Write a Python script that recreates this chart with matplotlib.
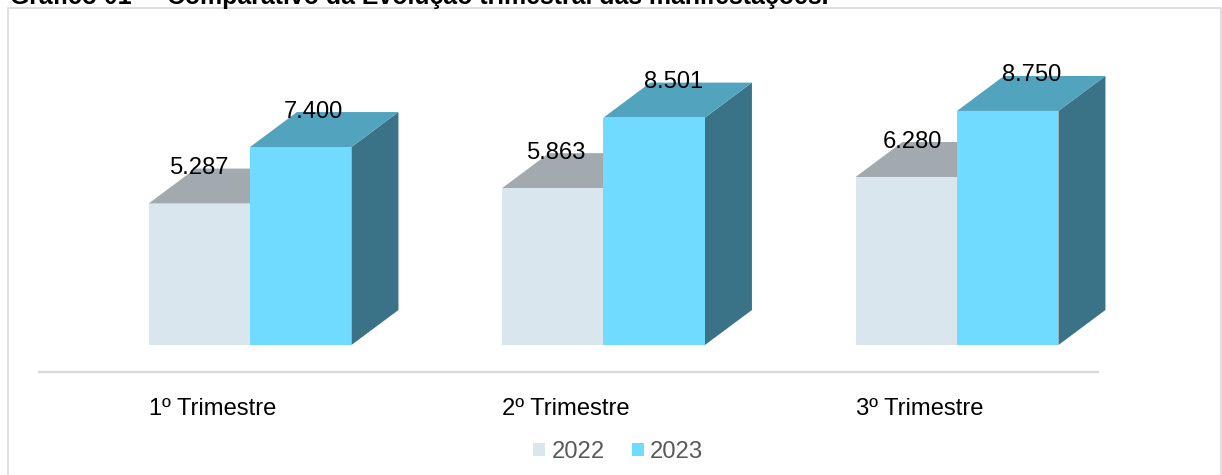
import matplotlib
matplotlib.use("Agg")
import matplotlib.pyplot as plt
from matplotlib.patches import Polygon, Rectangle, Patch
import numpy as np

# ---- data ----
categories = ["1º Trimestre", "2º Trimestre", "3º Trimestre"]
series_names = ["2022", "2023"]
values_2022 = [5287, 5863, 6280]
values_2023 = [7400, 8501, 8750]
title_number = "Gráfico 01 –"
title_text = "Comparativo da Evolução trimestral das manifestações."

# ---- styling ----
W, H, DPI = 1222, 475, 100
FONT = "Liberation Sans"
FS = 17.1  # pt
colors_2022 = {"front": "#DAE6ED", "top": "#A2AAB0", "side": "#8A949A"}
colors_2023 = {"front": "#70DBFF", "top": "#52A3BE", "side": "#3A7387"}
DEPTH_PX = (47, 35)          # oblique depth of the pseudo-3D boxes (pixels)
BAR_W = 0.287                # bar width in category units
label_shift_2022 = [0.5, 3.5, 6.5]   # px, horizontal nudge of value labels
label_shift_2023 = [13, 19, 24]

plt.rcParams["font.family"] = [FONT, "DejaVu Sans"]

fig = plt.figure(figsize=(W / DPI, H / DPI), dpi=DPI)

def fx(px):
    return px / W

def fy(py):
    return 1 - py / H

# chart frame
fig.patches.append(Rectangle((fx(8), -0.1), fx(1221) - fx(8), fy(7.5) + 0.1,
                             transform=fig.transFigure, fill=False,
                             edgecolor="#D9D9D9", linewidth=1.2, zorder=0))

# caption above the frame (runs past the top edge of the image)
t1 = fig.text(fx(10), fy(4), title_number, fontsize=FS, fontweight="bold",
              color="#000000", va="baseline", ha="left")
t2 = fig.text(fx(167), fy(4), title_text, fontsize=FS, fontweight="bold",
              color="#000000", va="baseline", ha="left")
renderer = fig.canvas.get_renderer()
w2 = t2.get_window_extent(renderer).width
t2.set_fontsize(FS * 661 / w2)
t1.set_fontsize(FS * 661 / w2)

# plot area
ax_left, ax_right, ax_top, ax_bottom = 39, 1098, 77.5, 371.75
ax = fig.add_axes([fx(ax_left), fy(ax_bottom), fx(ax_right) - fx(ax_left),
                   fy(ax_top) - fy(ax_bottom)])
ax.set_xlim(-0.5969, 2.3989)
ax.set_ylim(-1000, 10000)
for s in ["top", "left", "right"]:
    ax.spines[s].set_visible(False)
ax.spines["bottom"].set_color("#D9D9D9")
ax.spines["bottom"].set_linewidth(1.6)
ax.set_xticks([])
ax.set_yticks([])
ax.patch.set_alpha(0)

# depth offset converted into data units
o = ax.transData.transform((0, 0))
ddx, ddy = ax.transData.inverted().transform(o + np.array(DEPTH_PX))

def box(x0, x1, v, c):
    side = [(x1, 0), (x1 + ddx, ddy), (x1 + ddx, v + ddy), (x1, v)]
    top = [(x0, v), (x1, v), (x1 + ddx, v + ddy), (x0 + ddx, v + ddy)]
    front = [(x0, 0), (x1, 0), (x1, v), (x0, v)]
    for verts, key in [(side, "side"), (top, "top"), (front, "front")]:
        ax.add_patch(Polygon(verts, closed=True, facecolor=c[key],
                             edgecolor="none", clip_on=False))

def fmt(v):
    return f"{v:,}".replace(",", ".")

px2pt = 72 / DPI
for i, cat in enumerate(categories):
    v22, v23 = values_2022[i], values_2023[i]
    box(i - BAR_W, i, v22, colors_2022)
    box(i, i + BAR_W, v23, colors_2023)
    ax.annotate(fmt(v22), xy=(i - BAR_W / 2, v22), xycoords="data",
                xytext=(label_shift_2022[i] * px2pt, 29.5 * px2pt),
                textcoords="offset points", ha="center", va="baseline",
                fontsize=FS, color="#000000", annotation_clip=False)
    ax.annotate(fmt(v23), xy=(i + BAR_W / 2, v23), xycoords="data",
                xytext=(label_shift_2023[i] * px2pt, 29.5 * px2pt),
                textcoords="offset points", ha="center", va="baseline",
                fontsize=FS, color="#000000", annotation_clip=False)
    ax.annotate(cat, xy=(i - BAR_W, 0), xycoords=("data", "axes fraction"),
                xytext=(0, -43.25 * px2pt), textcoords="offset points",
                ha="left", va="baseline", fontsize=FS, color="#000000",
                annotation_clip=False)

handles = [Patch(facecolor=colors_2022["front"], edgecolor="none"),
           Patch(facecolor=colors_2023["front"], edgecolor="none")]
leg = fig.legend(handles, series_names, loc="center", ncol=2, frameon=False,
                 bbox_to_anchor=(fx(618), fy(452)), fontsize=FS,
                 handlelength=12 / 23.7, handleheight=12 / 23.7,
                 handletextpad=6 / 23.7, columnspacing=27 / 23.7, borderpad=0)
for t in leg.get_texts():
    t.set_color("#595959")

fig.savefig("out.png", dpi=DPI)
